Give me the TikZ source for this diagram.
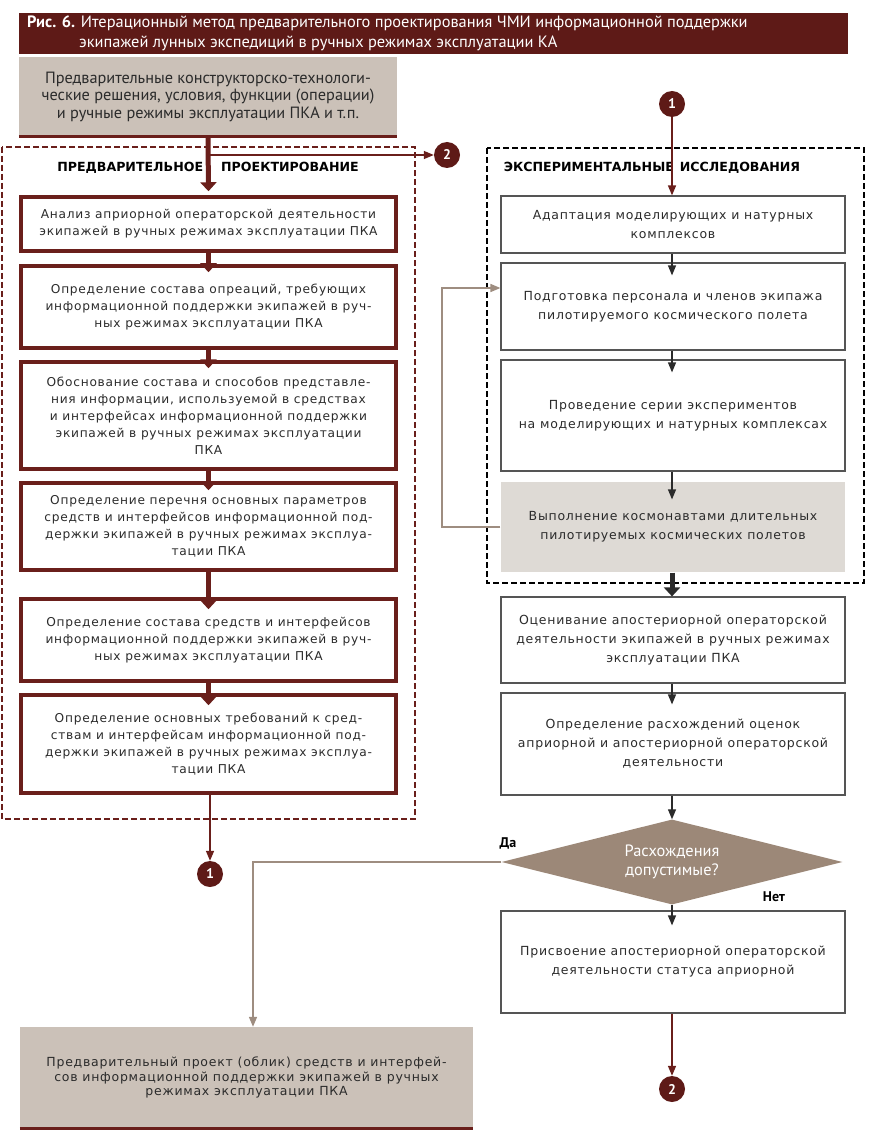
\documentclass[tikz,border=0pt]{standalone}
\usepackage{fontspec}
\setmainfont{DejaVu Sans}
\newfontfamily\boxfont{DejaVu Sans}[LetterSpace=6]
\newfontfamily\ptfont{PT Sans}
\usetikzlibrary{arrows.meta,shapes.geometric}
\definecolor{rust}{HTML}{5E1A17}
\definecolor{boxred}{HTML}{6A1F1B}
\definecolor{sand}{HTML}{CBC1B8}
\definecolor{mist}{HTML}{DEDAD5}
\definecolor{taupe}{HTML}{9C8878}
\definecolor{fawn}{HTML}{9E8D80}
\definecolor{edge}{HTML}{555555}
\definecolor{ink}{HTML}{2B2B2B}

\begin{document}
\begin{tikzpicture}[x=1pt,y=-1pt,
	pbox/.style={draw=boxred,line width=3.5pt,minimum width=375pt,align=center,inner sep=0pt,
		font=\boxfont\fontsize{12.2}{17}\selectfont,text=ink},
	ebox/.style={draw=edge,line width=1.2pt,minimum width=344pt,align=center,inner sep=0pt,
		font=\boxfont\fontsize{12.5}{19}\selectfont,text=ink},
	gbox/.style={fill=sand,align=center,inner sep=0pt,text=ink},
	dot/.style={circle,fill=rust,minimum size=26pt,inner sep=0pt,text=white,font=\ptfont\bfseries\fontsize{14}{14}\selectfont},
	head/.style={font=\bfseries\fontsize{12.6}{14}\selectfont,text=black,inner sep=0pt},
	bigred/.style={boxred,line width=5pt,-{Triangle[width=16pt,length=9pt]}},
	thinred/.style={boxred,line width=1.5pt,-{Triangle[width=8pt,length=10pt]}},
	thinblk/.style={ink,line width=1.3pt,-{Triangle[width=8pt,length=10pt]}},
	bigblk/.style={ink,line width=5pt,-{Triangle[width=16pt,length=9pt]}},
	back/.style={fawn,line width=1.6pt,-{Triangle[width=8pt,length=10pt]}},
]
	\useasboundingbox (0,0) rectangle (870,1147);

	\node[fill=rust,minimum width=829pt,minimum height=41pt,anchor=north west,inner sep=0pt] (bar) at (19,13) {};
	\node[anchor=north west,align=left,inner sep=0pt,text=white,font=\ptfont\fontsize{16.4}{20}\selectfont] (cap) at (27,16)
		{\textbf{Рис. 6.} Итерационный метод предварительного проектирования ЧМИ информационной поддержки\\
		\hspace*{52pt}экипажей лунных экспедиций в ручных режимах эксплуатации КА};

	\draw[boxred,line width=1.5pt,dash pattern=on 6pt off 3pt] (2,147) rectangle (415,819);
	\draw[black,line width=1.5pt,dash pattern=on 6pt off 3pt] (487,148) rectangle (864,583);
	\node[head] (hl) at (208,168) {ПРЕДВАРИТЕЛЬНОЕ\hspace{18pt}ПРОЕКТИРОВАНИЕ};
	\node[head] (hr) at (652,168) {ЭКСПЕРИМЕНТАЛЬНЫЕ\hspace{6pt}ИССЛЕДОВАНИЯ};

	\node[gbox,minimum width=378pt,minimum height=79pt,font=\ptfont\fontsize{16.3}{17.5}\selectfont] (g) at (208,96.5)
		{Предварительные конструкторско-технологи-\\ческие решения, условия, функции (операции)\\и ручные режимы эксплуатации ПКА и т.п.};
	\draw[boxred,line width=3pt] (g.south west) -- (g.south east);

	\node[pbox,minimum height=54pt] (a1) at (208.5,224)
		{Анализ априорной операторской деятельности\\экипажей в ручных режимах эксплуатации ПКА};
	\node[pbox,minimum height=82pt] (a2) at (208.5,307)
		{Определение состава опреаций, требующих\\информационной поддержки экипажей в руч-\\ных режимах эксплуатации ПКА};
	\node[pbox,minimum height=107pt] (a3) at (208.5,415.5)
		{Обоснование состава и способов представле-\\ния информации, используемой в средствах\\и интерфейсах информационной поддержки\\экипажей в ручных режимах эксплуатации\\ПКА};
	\node[pbox,minimum height=87pt] (a4) at (208.5,526.5)
		{Определение перечня основных параметров\\средств и интерфейсов информационной под-\\держки экипажей в ручных режимах эксплуа-\\тации ПКА};
	\node[pbox,minimum height=82pt] (a5) at (208.5,640)
		{Определение состава средств и интерфейсов\\информационной поддержки экипажей в руч-\\ных режимах эксплуатации ПКА};
	\node[pbox,minimum height=98pt] (a6) at (208.5,744)
		{Определение основных требований к сред-\\ствам и интерфейсам информационной под-\\держки экипажей в ручных режимах эксплуа-\\тации ПКА};

	\node[ebox,minimum height=57pt] (b1) at (673,224.5)
		{Адаптация моделирующих и натурных\\комплексов};
	\node[ebox,minimum height=87pt] (b2) at (673,306.5)
		{Подготовка персонала и членов экипажа\\пилотируемого космического полета};
	\node[ebox,minimum height=111pt] (b3) at (673,415.5)
		{Проведение серии экспериментов\\на моделирующих и натурных комплексах};
	\node[ebox,draw=none,fill=mist,minimum height=90pt] (b4) at (673,527)
		{Выполнение космонавтами длительных\\пилотируемых космических полетов};
	\node[ebox,minimum height=86pt] (b5) at (673,640)
		{Оценивание апостериорной операторской\\деятельности экипажей в ручных режимах\\эксплуатации ПКА};
	\node[ebox,minimum height=102pt] (b6) at (673,744)
		{Определение расхождений оценок\\априорной и апостериорной операторской\\деятельности};
	\node[diamond,aspect=4,fill=taupe,minimum width=341pt,minimum height=85pt,inner sep=0pt,align=center,
		text=white,font=\ptfont\fontsize{16.4}{19}\selectfont] (q) at (672,862)
		{Расхождения\\допустимые?};
	\node[ebox,minimum height=102pt] (b7) at (673,962)
		{Присвоение апостериорной операторской\\деятельности статуса априорной};

	\node[gbox,minimum width=453pt,minimum height=101pt,font=\boxfont\fontsize{12.5}{14.5}\selectfont] (r) at (246.5,1077.5)
		{Предварительный проект (облик) средств и интерфей-\\сов информационной поддержки экипажей в ручных\\режимах эксплуатации ПКА};
	\draw[boxred,line width=3pt] (r.south west) -- (r.south east);

	\node[dot] (n1) at (672,104) {1};
	\node[dot] (n2) at (447,155) {2};
	\node[dot] (m1) at (210,874) {1};
	\node[dot] (m2) at (672,1089) {2};
	\node[head,font=\ptfont\bfseries\fontsize{14}{16}\selectfont] (yes) at (508,843) {Да};
	\node[head,font=\ptfont\bfseries\fontsize{14}{16}\selectfont] (no) at (774,897) {Нет};

	\draw[bigred,shorten >=4pt] (g.south) -- (a1.north);
	\draw[thinred] (g.south |- n2) -- (n2);
	\draw[bigred,shorten >=-8pt] (a1) -- (a2);
	\draw[bigred,shorten >=-8pt] (a2) -- (a3);
	\draw[bigred,shorten >=-9pt] (a3) -- (a4);
	\draw[bigred,shorten >=-12pt] (a4) -- (a5);
	\draw[bigred,shorten >=-12pt] (a5) -- (a6);
	\draw[thinred] (a6.south -| m1) -- (m1);

	\draw[thinred] (n1) -- (n1 |- b1.north);
	\draw[thinblk,shorten >=-13pt] (b1.south -| n1) -- (b2.north -| n1);
	\draw[thinblk,shorten >=-13pt] (b2.south -| n1) -- (b3.north -| n1);
	\draw[thinblk,shorten >=-18pt] (b3.south -| n1) -- (b4.north -| n1);
	\draw[bigblk] (b4.south -| n1) -- (b5.north -| n1);
	\draw[thinblk,shorten >=-12pt] (b5.south -| n1) -- (b6.north -| n1);
	\draw[thinblk] (b6.south -| n1) -- (q.north);
	\draw[thinblk,shorten >=-15pt] (q.south) -- (b7.north -| n1);
	\draw[thinred] (b7.south -| n1) -- (m2);

	\coordinate (k) at (442,288);
	\draw[back] (b4.west) -| (k) -- (k -| b2.west);
	\draw[back] (q.west) -| (r.north -| 253,0);
\end{tikzpicture}
\end{document}
